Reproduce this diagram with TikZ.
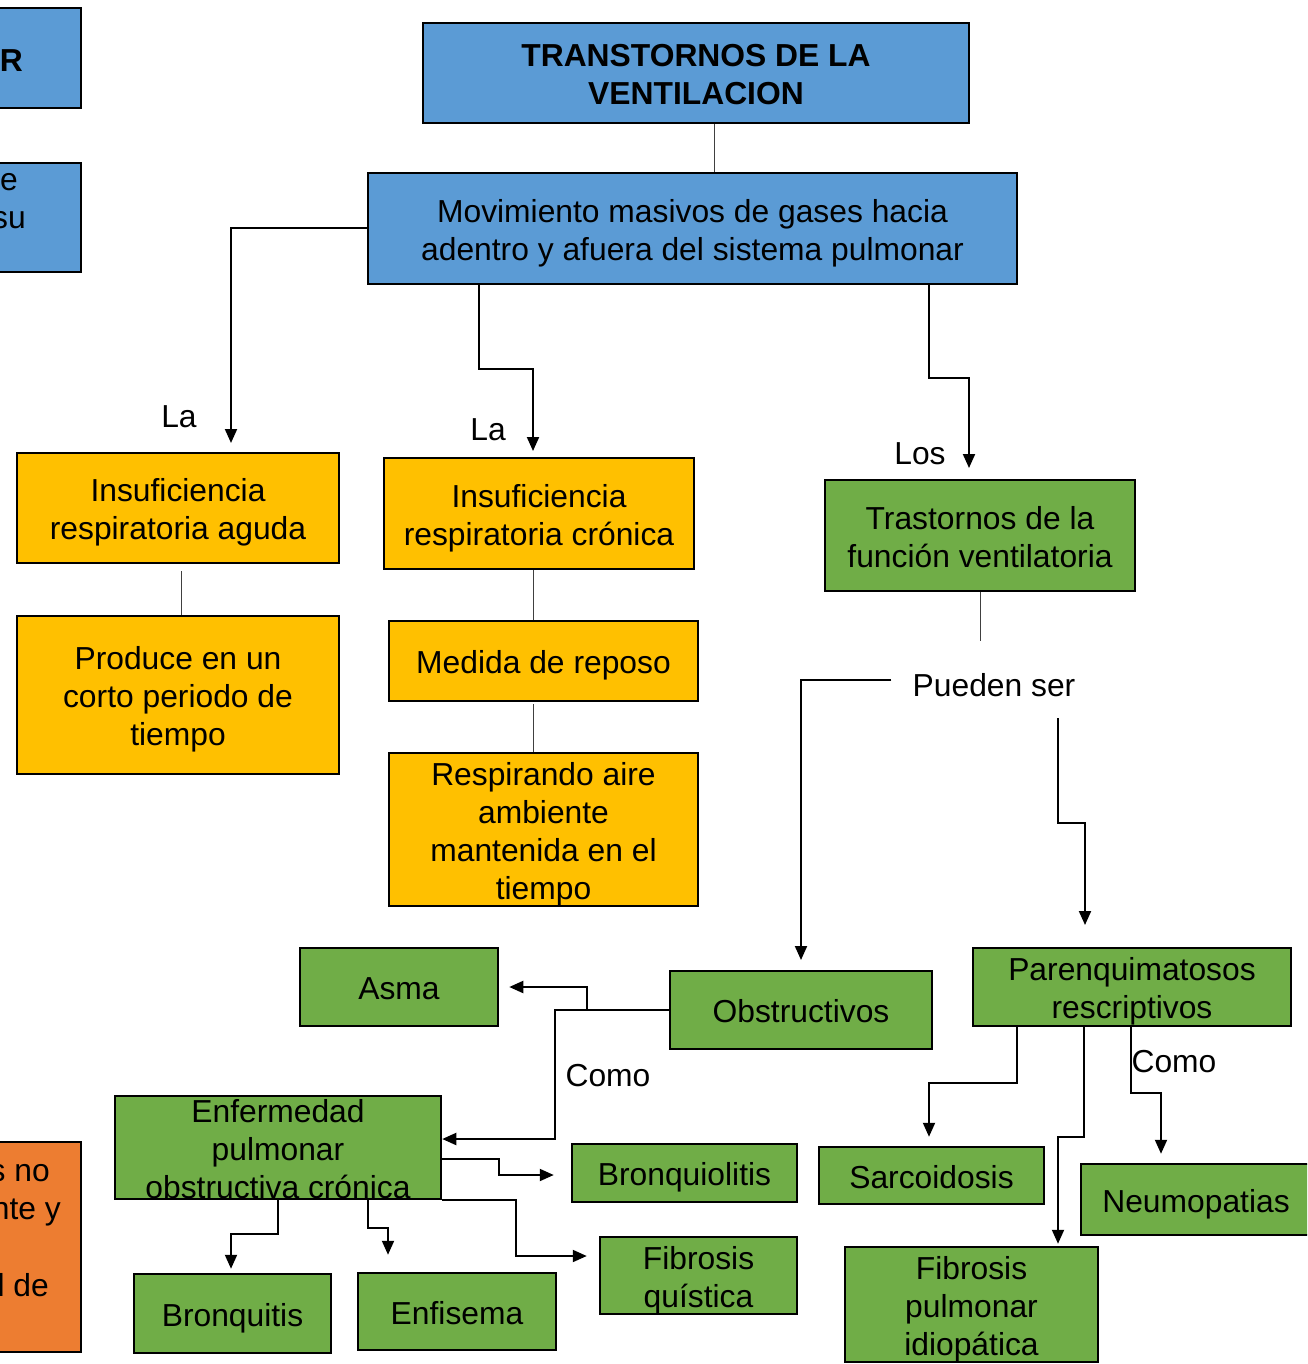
\documentclass[tikz,border=0pt]{standalone}
\usepackage{fontspec}
\setmainfont{Liberation Sans}
\usetikzlibrary{arrows.meta}
\definecolor{mapblue}{HTML}{5B9BD5}
\definecolor{mapgold}{HTML}{FFC000}
\definecolor{mapgreen}{HTML}{70AD47}
\definecolor{maporange}{HTML}{ED7D31}

\begin{document}
\begin{tikzpicture}[x=1pt, y=-1pt,
    txt/.style={font=\fontsize{31.8}{38}\selectfont, align=center, inner sep=0pt},
    mapbox/.style={txt, draw=black, line width=2.5pt, text height=32pt, text depth=6.5pt},
    twolines/.style={text height=70pt},
    threelines/.style={text height=108pt},
    fourlines/.style={text height=146pt},
    bluebox/.style={mapbox, fill=mapblue},
    goldbox/.style={mapbox, fill=mapgold},
    greenbox/.style={mapbox, fill=mapgreen},
    arr/.style={line width=2pt, -{Triangle[length=14pt, width=12pt]}},
    link/.style={line width=1pt, draw=black!75}]

    \useasboundingbox (0,0) rectangle (1307,1364);
    \clip (0,0) rectangle (1307,1364);

    % Cut boxes on the left edge:
    \node[bluebox, minimum width=281pt, minimum height=100pt] (edgeA) at (-59.5,58) {};
    \node[bluebox, minimum width=281pt, minimum height=109pt] (edgeB) at (-59.5,217.5) {};
    \node[mapbox, fill=maporange, minimum width=281pt, minimum height=210pt] (edgeC) at (-59.5,1247) {};
    \node[txt, anchor=base east, font=\fontsize{31.8}{38}\selectfont\bfseries] (edgeAr) at (23,71.5) {R};
    \node[txt, anchor=base east] (edgeBe) at (18,190.5) {e};
    \node[txt, anchor=base east] (edgeBsu) at (26,228.5) {su};
    \node[txt, anchor=base east] (edgeCa) at (50,1181) {s no};
    \node[txt, anchor=base east] (edgeCb) at (61,1219) {nte y};
    \node[txt, anchor=base east] (edgeCc) at (49,1296) {l de};

    % Boxes:
    \node[bluebox, twolines, font=\fontsize{31.8}{38}\selectfont\bfseries, minimum width=546pt, minimum height=100pt] (title) at (696,73) {TRANSTORNOS DE LA\\VENTILACION};
    \node[bluebox, twolines, minimum width=649pt, minimum height=111pt] (mov) at (692.5,228.5) {Movimiento masivos de gases hacia\\adentro y afuera del sistema pulmonar};

    \node[goldbox, twolines, minimum width=322pt, minimum height=110pt] (ira) at (178,508) {Insuficiencia\\respiratoria aguda};
    \node[goldbox, twolines, minimum width=310pt, minimum height=111pt] (irc) at (539,513.5) {Insuficiencia\\respiratoria crónica};
    \node[greenbox, twolines, minimum width=310pt, minimum height=111pt] (tfv) at (980,535.5) {Trastornos de la\\función ventilatoria};

    \node[goldbox, threelines, minimum width=322pt, minimum height=158pt] (prod) at (178,695) {Produce en un\\corto periodo de\\tiempo};
    \node[goldbox, minimum width=309pt, minimum height=80pt] (medida) at (543.5,661) {Medida de reposo};
    \node[goldbox, fourlines, minimum width=309pt, minimum height=153pt] (resp) at (543.5,829.5) {Respirando aire\\ambiente\\mantenida en el\\tiempo};

    \node[greenbox, minimum width=198pt, minimum height=78pt] (asma) at (399,987) {Asma};
    \node[greenbox, minimum width=262pt, minimum height=78pt] (obst) at (801,1010) {Obstructivos};
    \node[greenbox, twolines, minimum width=318pt, minimum height=78pt] (paren) at (1132,987) {Parenquimatosos\\rescriptivos};

    \node[greenbox, minimum width=326pt, minimum height=103pt,
          label={[txt, yshift=-2pt]center:{Enfermedad\\pulmonar\\obstructiva crónica}}] (epoc) at (278,1147.5) {};
    \node[greenbox, minimum width=225pt, minimum height=58pt] (bronqlitis) at (684.5,1173) {Bronquiolitis};
    \node[greenbox, minimum width=225pt, minimum height=57pt] (sarc) at (931.5,1175.5) {Sarcoidosis};
    \node[greenbox, minimum width=230pt, minimum height=71pt] (neumo) at (1196,1199.5) {Neumopatias};
    \node[greenbox, minimum width=197pt, minimum height=79pt] (bronquitis) at (232.5,1313.5) {Bronquitis};
    \node[greenbox, minimum width=198pt, minimum height=77pt] (enfisema) at (457,1311.5) {Enfisema};
    \node[greenbox, twolines, minimum width=197pt, minimum height=77pt] (fq) at (698.5,1275.5) {Fibrosis\\quística};
    \node[greenbox, threelines, minimum width=253pt, minimum height=115pt] (fpi) at (971.5,1304.5) {Fibrosis\\pulmonar\\idiopática};

    % Words on the links:
    \node[txt] (laA) at (179,417) {La};
    \node[txt] (laB) at (488,430) {La};
    \node[txt] (los) at (920,454) {Los};
    \node[txt] (pueden) at (994,685) {Pueden ser};
    \node[txt] (comoA) at (608,1076) {Como};
    \node[txt] (comoB) at (1174,1062) {Como};

    % Links:
    \draw[link] ([xshift=18pt]title.south) -- ([xshift=21.5pt]mov.north);
    \draw[link] ([xshift=3pt, yshift=-7pt]ira.south) -- ([xshift=3pt]prod.north);
    \draw[link] ([xshift=-6pt]irc.south) -- ([xshift=-10.5pt]medida.north);
    \draw[link] ([xshift=-10.5pt, yshift=-2pt]medida.south) -- ([xshift=-10.5pt]resp.north);
    \draw[link] (tfv.south) -- ++(0,49);

    \coordinate (iraIn) at (231,443);
    \coordinate (ircIn) at (533,451);
    \coordinate (tfvIn) at (969,468);
    \coordinate (obstIn) at (801,960);
    \coordinate (parenIn) at (1085,925);

    \draw[arr] (mov.west) -| (iraIn);
    \draw[arr] ([xshift=-213.5pt]mov.south) -- ++(0,84) -| (ircIn);
    \draw[arr] ([xshift=236.5pt]mov.south) -- ++(0,93) -| (tfvIn);

    \draw[arr] ([yshift=5pt, xshift=-21pt]pueden.west) -| (obstIn);
    \draw[arr] ([xshift=64pt, yshift=-21.5pt]pueden.south) -- ++(0,105) -| (parenIn);

    \draw[arr] (obst.west) -- ++(-114,0) |- ([yshift=8.5pt]epoc.east);
    \draw[arr] ([xshift=-82pt]obst.west) |- ([xshift=10pt]asma.east);

    \draw[arr] ([yshift=-11.5pt]epoc.east) -- ++(57,0) |- ([xshift=-17pt, yshift=-2pt]bronqlitis.west);
    \draw[arr] (epoc.south east) -- ++(74,0) |- ([xshift=-12pt, yshift=19.5pt]fq.west);
    \draw[arr] (epoc.south) -- ++(0,34) -| ([xshift=-1.5pt, yshift=4pt]bronquitis.north);
    \draw[arr] ([xshift=90pt]epoc.south) -- ++(0,28) -| ([xshift=-69pt, yshift=17pt]enfisema.north);

    \draw[arr] ([xshift=-115pt]paren.south) -- ++(0,56) -| ([xshift=-2.5pt, yshift=9pt]sarc.north);
    \draw[arr] ([xshift=-48pt]paren.south) -- ++(0,110) -| ([xshift=86.5pt, yshift=2pt]fpi.north);
    \draw[arr] ([xshift=-1pt]paren.south) -- ++(0,66) -| ([xshift=-35pt, yshift=9pt]neumo.north);
\end{tikzpicture}
\end{document}
